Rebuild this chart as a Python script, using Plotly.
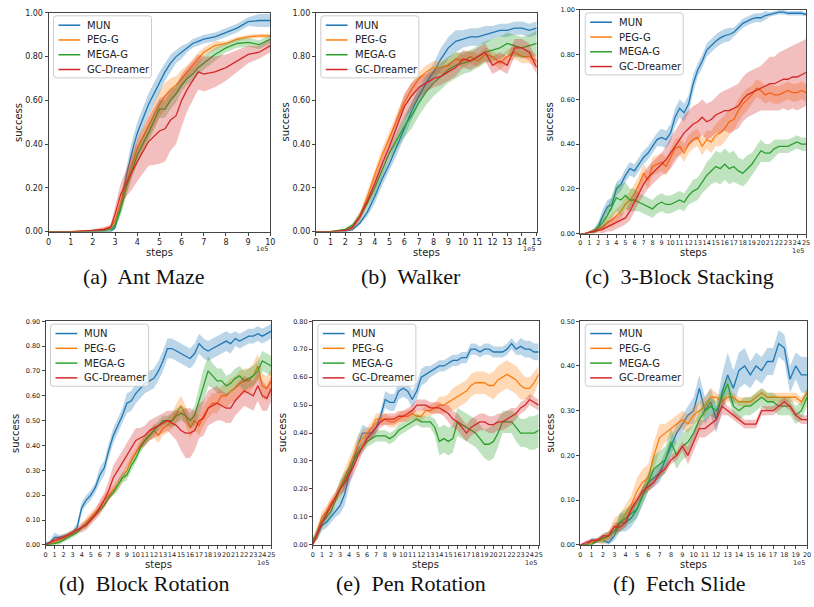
import plotly.graph_objects as go

W, H = 814, 607

METHODS = ["MUN", "PEG-G", "MEGA-G", "GC-Dreamer"]
COLORS = ["#1f77b4", "#ff7f0e", "#2ca02c", "#d62728"]
FILLS = ["rgba(31,119,180,0.3)", "rgba(255,127,14,0.3)",
         "rgba(44,160,44,0.3)", "rgba(214,39,40,0.3)"]

# ---------------- (a) Ant Maze ----------------
A_x = [0, 1, 2, 2.5, 2.8, 3, 3.25, 3.5, 3.75, 4, 4.5, 5, 5.25, 5.5, 5.75, 6,
       6.25, 6.5, 6.75, 7, 7.5, 8, 8.5, 9, 9.5, 10]
A_mun = [0, 0, 0, 0, 0, 0.02, 0.12, 0.25, 0.36, 0.45, 0.58, 0.68, 0.73, 0.77, 0.80, 0.82,
         0.84, 0.86, 0.87, 0.88, 0.89, 0.91, 0.93, 0.96, 0.965, 0.965]
A_mun_sd = [0, 0, 0, 0, 0, 0.01, 0.03, 0.04, 0.05, 0.05, 0.05, 0.05, 0.04, 0.04, 0.03, 0.03,
            0.02, 0.02, 0.02, 0.02, 0.02, 0.02, 0.02, 0.02, 0.03, 0.03]
A_peg = [0, 0, 0.005, 0.01, 0.02, 0.05, 0.13, 0.22, 0.30, 0.38, 0.48, 0.58, 0.62, 0.65, 0.67, 0.70,
         0.73, 0.76, 0.79, 0.82, 0.85, 0.86, 0.88, 0.89, 0.895, 0.895]
A_peg_sd = [0, 0, 0.005, 0.01, 0.01, 0.02, 0.04, 0.05, 0.05, 0.05, 0.05, 0.06, 0.06, 0.05, 0.04, 0.04,
            0.03, 0.03, 0.03, 0.02, 0.02, 0.01, 0.01, 0.01, 0.01, 0.01]
A_mega = [0, 0, 0, 0.005, 0.01, 0.03, 0.10, 0.20, 0.28, 0.35, 0.45, 0.56, 0.56, 0.60, 0.63, 0.67,
          0.70, 0.72, 0.75, 0.77, 0.81, 0.84, 0.86, 0.865, 0.855, 0.88]
A_mega_sd = [0, 0, 0, 0.005, 0.01, 0.02, 0.03, 0.04, 0.04, 0.04, 0.04, 0.04, 0.04, 0.04, 0.04, 0.03,
             0.03, 0.03, 0.03, 0.03, 0.03, 0.02, 0.02, 0.02, 0.02, 0.02]
A_gc = [0, 0, 0.005, 0.01, 0.02, 0.08, 0.17, 0.22, 0.27, 0.32, 0.41, 0.46, 0.47, 0.51, 0.53, 0.60,
        0.65, 0.69, 0.73, 0.72, 0.73, 0.75, 0.78, 0.81, 0.82, 0.85]
A_gc_sd = [0, 0, 0.005, 0.01, 0.01, 0.04, 0.05, 0.06, 0.08, 0.09, 0.11, 0.15, 0.15, 0.14, 0.13, 0.12,
           0.10, 0.09, 0.08, 0.08, 0.07, 0.06, 0.05, 0.04, 0.03, 0.03]

# ---------------- (b) Walker ----------------
B_x = [0, 1, 2, 2.5, 3, 3.5, 4, 4.5, 5, 5.5, 6, 6.5, 7, 7.5, 8, 8.5, 9, 9.5, 10,
       10.5, 11, 11.5, 12, 12.5, 13, 13.5, 14, 14.5, 15]
B_mun = [0, 0, 0, 0.01, 0.04, 0.09, 0.16, 0.24, 0.31, 0.39, 0.47, 0.55, 0.62, 0.68, 0.73, 0.79,
         0.84, 0.87, 0.88, 0.89, 0.89, 0.90, 0.91, 0.92, 0.92, 0.93, 0.93, 0.92, 0.93]
B_mun_sd = [0, 0, 0, 0.005, 0.01, 0.02, 0.03, 0.03, 0.03, 0.04, 0.04, 0.04, 0.04, 0.04, 0.04, 0.05,
            0.05, 0.05, 0.04, 0.04, 0.04, 0.04, 0.03, 0.03, 0.03, 0.03, 0.03, 0.03, 0.03]
B_peg = [0, 0, 0.005, 0.02, 0.07, 0.16, 0.26, 0.35, 0.43, 0.51, 0.59, 0.65, 0.70, 0.73, 0.75, 0.75,
         0.76, 0.79, 0.78, 0.80, 0.78, 0.81, 0.80, 0.77, 0.80, 0.82, 0.80, 0.80, 0.78]
B_peg_sd = [0, 0, 0.005, 0.01, 0.02, 0.03, 0.03, 0.03, 0.03, 0.03, 0.03, 0.03, 0.03, 0.03, 0.03, 0.03,
            0.03, 0.03, 0.03, 0.03, 0.03, 0.03, 0.03, 0.03, 0.03, 0.03, 0.03, 0.03, 0.03]
B_mega = [0, 0, 0.01, 0.03, 0.07, 0.13, 0.20, 0.28, 0.36, 0.42, 0.48, 0.53, 0.59, 0.64, 0.68, 0.71,
          0.74, 0.76, 0.77, 0.78, 0.80, 0.82, 0.83, 0.84, 0.86, 0.85, 0.84, 0.85, 0.86]
B_mega_sd = [0, 0, 0.005, 0.01, 0.02, 0.02, 0.03, 0.03, 0.03, 0.04, 0.05, 0.06, 0.06, 0.06, 0.06, 0.06,
             0.06, 0.06, 0.05, 0.05, 0.05, 0.05, 0.05, 0.05, 0.05, 0.05, 0.05, 0.05, 0.06]
B_gc = [0, 0, 0.005, 0.02, 0.07, 0.14, 0.22, 0.31, 0.39, 0.48, 0.57, 0.62, 0.66, 0.68, 0.70, 0.71,
        0.73, 0.75, 0.79, 0.78, 0.80, 0.82, 0.76, 0.78, 0.76, 0.84, 0.84, 0.82, 0.75]
B_gc_sd = [0, 0, 0.005, 0.01, 0.02, 0.02, 0.03, 0.03, 0.04, 0.05, 0.06, 0.06, 0.05, 0.04, 0.04, 0.04,
           0.04, 0.04, 0.04, 0.04, 0.04, 0.04, 0.04, 0.04, 0.04, 0.04, 0.04, 0.04, 0.03]

# ---------------- (c) 3-Block Stacking ----------------
C_x = [k / 2 for k in range(51)]
C_mun = [0, 0, 0.005, 0.01, 0.03, 0.08, 0.12, 0.13, 0.20, 0.22,
         0.26, 0.29, 0.28, 0.31, 0.34, 0.36, 0.39, 0.42, 0.43, 0.42,
         0.45, 0.52, 0.56, 0.54, 0.58, 0.67, 0.73, 0.77, 0.82, 0.84,
         0.86, 0.875, 0.885, 0.89, 0.90, 0.92, 0.94, 0.95, 0.96, 0.965,
         0.965, 0.975, 0.98, 0.985, 0.99, 0.99, 0.985, 0.985, 0.985, 0.985, 0.98]
C_mun_sd = [0, 0, 0.005, 0.01, 0.02, 0.03, 0.03, 0.03, 0.03, 0.03,
            0.03, 0.03, 0.03, 0.03, 0.03, 0.03, 0.03, 0.03, 0.04, 0.04,
            0.04, 0.04, 0.04, 0.04, 0.04, 0.04, 0.03, 0.03, 0.03, 0.03,
            0.03, 0.03, 0.03, 0.03, 0.02, 0.02, 0.02, 0.02, 0.02, 0.02,
            0.02, 0.02, 0.01, 0.01, 0.01, 0.01, 0.01, 0.01, 0.01, 0.01, 0.01]
C_peg = [0, 0, 0.005, 0.01, 0.02, 0.03, 0.05, 0.06, 0.08, 0.10,
         0.13, 0.15, 0.18, 0.22, 0.27, 0.24, 0.30, 0.31, 0.32, 0.30,
         0.34, 0.38, 0.39, 0.36, 0.40, 0.42, 0.43, 0.39, 0.42, 0.41,
         0.44, 0.45, 0.47, 0.50, 0.51, 0.55, 0.58, 0.60, 0.62, 0.65,
         0.64, 0.62, 0.63, 0.62, 0.62, 0.63, 0.64, 0.63, 0.63, 0.64, 0.63]
C_peg_sd = [0, 0, 0.005, 0.01, 0.01, 0.02, 0.02, 0.03, 0.03, 0.03,
            0.03, 0.04, 0.04, 0.04, 0.04, 0.04, 0.04, 0.04, 0.04, 0.04,
            0.04, 0.04, 0.04, 0.04, 0.04, 0.04, 0.04, 0.04, 0.04, 0.05,
            0.05, 0.06, 0.06, 0.06, 0.05, 0.05, 0.05, 0.05, 0.04, 0.04,
            0.04, 0.04, 0.04, 0.04, 0.04, 0.04, 0.04, 0.04, 0.04, 0.04, 0.04]
C_mega = [0, 0, 0.005, 0.01, 0.03, 0.05, 0.08, 0.12, 0.16, 0.15,
          0.17, 0.15, 0.15, 0.14, 0.13, 0.12, 0.11, 0.13, 0.14, 0.13,
          0.13, 0.14, 0.15, 0.14, 0.17, 0.19, 0.20, 0.23, 0.26, 0.28,
          0.30, 0.29, 0.31, 0.29, 0.30, 0.28, 0.27, 0.29, 0.31, 0.34,
          0.37, 0.36, 0.36, 0.38, 0.39, 0.39, 0.39, 0.40, 0.41, 0.40, 0.40]
C_mega_sd = [0, 0, 0.005, 0.01, 0.02, 0.03, 0.04, 0.05, 0.06, 0.07,
             0.06, 0.05, 0.05, 0.04, 0.04, 0.04, 0.04, 0.04, 0.04, 0.04,
             0.04, 0.04, 0.04, 0.04, 0.04, 0.05, 0.05, 0.05, 0.06, 0.06,
             0.07, 0.07, 0.07, 0.07, 0.07, 0.06, 0.06, 0.06, 0.05, 0.05,
             0.05, 0.04, 0.04, 0.04, 0.03, 0.03, 0.03, 0.03, 0.03, 0.03, 0.03]
C_gc = [0, 0, 0.005, 0.01, 0.015, 0.02, 0.03, 0.04, 0.05, 0.06,
        0.07, 0.10, 0.14, 0.18, 0.22, 0.25, 0.27, 0.29, 0.31, 0.33,
        0.36, 0.39, 0.42, 0.45, 0.47, 0.49, 0.50, 0.52, 0.50, 0.51,
        0.53, 0.54, 0.55, 0.55, 0.56, 0.57, 0.60, 0.62, 0.63, 0.64,
        0.65, 0.66, 0.67, 0.67, 0.68, 0.69, 0.69, 0.70, 0.70, 0.71, 0.72]
C_gc_sd = [0, 0, 0.005, 0.01, 0.01, 0.02, 0.02, 0.03, 0.03, 0.03,
           0.03, 0.04, 0.04, 0.04, 0.05, 0.05, 0.05, 0.05, 0.05, 0.06,
           0.07, 0.07, 0.07, 0.08, 0.08, 0.08, 0.08, 0.08, 0.08, 0.08,
           0.08, 0.09, 0.09, 0.10, 0.10, 0.10, 0.10, 0.10, 0.10, 0.10,
           0.10, 0.11, 0.12, 0.12, 0.13, 0.13, 0.14, 0.14, 0.15, 0.15, 0.15]

# ---------------- (d) Block Rotation ----------------
D_x = [k / 2 for k in range(51)]
D_mun = [0.005, 0.01, 0.03, 0.03, 0.035, 0.04, 0.05, 0.07, 0.15, 0.18,
         0.20, 0.23, 0.28, 0.31, 0.38, 0.44, 0.48, 0.52, 0.57, 0.58,
         0.61, 0.63, 0.65, 0.66, 0.67, 0.70, 0.74, 0.79, 0.79, 0.78,
         0.77, 0.76, 0.75, 0.77, 0.81, 0.79, 0.78, 0.79, 0.80, 0.81,
         0.82, 0.81, 0.83, 0.82, 0.83, 0.84, 0.84, 0.85, 0.84, 0.85, 0.86]
D_mun_sd = [0.005, 0.01, 0.02, 0.01, 0.01, 0.01, 0.01, 0.02, 0.02, 0.02,
            0.02, 0.02, 0.03, 0.03, 0.03, 0.03, 0.03, 0.03, 0.04, 0.04,
            0.04, 0.04, 0.04, 0.04, 0.04, 0.04, 0.04, 0.04, 0.04, 0.04,
            0.04, 0.04, 0.04, 0.04, 0.04, 0.04, 0.04, 0.04, 0.04, 0.04,
            0.04, 0.04, 0.03, 0.03, 0.03, 0.03, 0.03, 0.03, 0.03, 0.03, 0.03]
D_peg = [0.0, 0.005, 0.01, 0.02, 0.03, 0.04, 0.05, 0.06, 0.07, 0.09,
         0.11, 0.13, 0.15, 0.18, 0.20, 0.22, 0.24, 0.27, 0.30, 0.34,
         0.37, 0.40, 0.42, 0.44, 0.46, 0.44, 0.47, 0.48, 0.50, 0.53,
         0.56, 0.52, 0.47, 0.50, 0.48, 0.52, 0.55, 0.57, 0.57, 0.60,
         0.60, 0.62, 0.63, 0.65, 0.66, 0.66, 0.68, 0.72, 0.64, 0.63, 0.66]
D_peg_sd = [0, 0.005, 0.01, 0.01, 0.01, 0.01, 0.01, 0.01, 0.01, 0.02,
            0.02, 0.02, 0.02, 0.02, 0.02, 0.02, 0.02, 0.02, 0.02, 0.02,
            0.02, 0.02, 0.02, 0.02, 0.03, 0.03, 0.03, 0.03, 0.03, 0.04,
            0.04, 0.04, 0.04, 0.04, 0.04, 0.04, 0.04, 0.04, 0.04, 0.04,
            0.05, 0.05, 0.05, 0.05, 0.05, 0.05, 0.05, 0.05, 0.05, 0.05, 0.05]
D_mega = [0, 0.002, 0.005, 0.01, 0.02, 0.03, 0.04, 0.05, 0.07, 0.08,
          0.10, 0.12, 0.14, 0.16, 0.19, 0.21, 0.24, 0.27, 0.28, 0.32,
          0.35, 0.39, 0.42, 0.44, 0.46, 0.48, 0.50, 0.50, 0.50, 0.52,
          0.53, 0.52, 0.50, 0.52, 0.58, 0.64, 0.70, 0.68, 0.66, 0.66,
          0.64, 0.65, 0.67, 0.68, 0.66, 0.67, 0.68, 0.70, 0.74, 0.73, 0.72]
D_mega_sd = [0, 0.002, 0.005, 0.01, 0.01, 0.01, 0.01, 0.01, 0.01, 0.01,
             0.01, 0.01, 0.01, 0.01, 0.01, 0.01, 0.02, 0.02, 0.02, 0.02,
             0.02, 0.02, 0.02, 0.02, 0.02, 0.02, 0.02, 0.02, 0.03, 0.03,
             0.03, 0.03, 0.03, 0.04, 0.06, 0.07, 0.06, 0.05, 0.05, 0.05,
             0.04, 0.04, 0.04, 0.04, 0.04, 0.04, 0.04, 0.04, 0.04, 0.04, 0.04]
D_gc = [0, 0.01, 0.02, 0.025, 0.03, 0.04, 0.05, 0.06, 0.07, 0.08,
        0.10, 0.12, 0.15, 0.18, 0.22, 0.27, 0.30, 0.33, 0.36, 0.39,
        0.42, 0.43, 0.44, 0.46, 0.47, 0.48, 0.49, 0.50, 0.49, 0.48,
        0.46, 0.45, 0.45, 0.46, 0.50, 0.51, 0.55, 0.56, 0.57, 0.56,
        0.55, 0.55, 0.58, 0.60, 0.62, 0.61, 0.60, 0.64, 0.60, 0.59, 0.63]
D_gc_sd = [0, 0.005, 0.01, 0.01, 0.01, 0.01, 0.01, 0.01, 0.02, 0.02,
           0.02, 0.02, 0.03, 0.03, 0.04, 0.05, 0.05, 0.05, 0.05, 0.05,
           0.05, 0.04, 0.04, 0.04, 0.04, 0.04, 0.04, 0.04, 0.05, 0.06,
           0.08, 0.10, 0.10, 0.08, 0.07, 0.07, 0.07, 0.07, 0.07, 0.06,
           0.06, 0.06, 0.06, 0.06, 0.06, 0.06, 0.06, 0.06, 0.06, 0.05, 0.05]

# ---------------- (e) Pen Rotation ----------------
E_x = [k / 2 for k in range(51)]
E_mun = [0.02, 0.04, 0.07, 0.08, 0.10, 0.12, 0.14, 0.18, 0.25, 0.30,
         0.36, 0.40, 0.40, 0.40, 0.42, 0.46, 0.52, 0.51, 0.51, 0.55,
         0.56, 0.55, 0.52, 0.55, 0.60, 0.61, 0.62, 0.63, 0.64, 0.64,
         0.65, 0.66, 0.66, 0.67, 0.67, 0.70, 0.70, 0.69, 0.70, 0.70,
         0.69, 0.69, 0.69, 0.70, 0.72, 0.70, 0.71, 0.70, 0.70, 0.69, 0.69]
E_mun_sd = [0.01, 0.02, 0.02, 0.02, 0.02, 0.02, 0.03, 0.04, 0.04, 0.03,
            0.03, 0.03, 0.02, 0.02, 0.02, 0.02, 0.03, 0.03, 0.03, 0.03,
            0.03, 0.03, 0.03, 0.03, 0.03, 0.03, 0.02, 0.02, 0.02, 0.02,
            0.02, 0.02, 0.02, 0.02, 0.02, 0.02, 0.02, 0.02, 0.02, 0.02,
            0.02, 0.02, 0.02, 0.02, 0.02, 0.02, 0.03, 0.03, 0.03, 0.03, 0.03]
E_peg = [0.01, 0.05, 0.10, 0.12, 0.15, 0.17, 0.20, 0.24, 0.28, 0.32,
         0.36, 0.38, 0.40, 0.42, 0.45, 0.45, 0.45, 0.44, 0.44, 0.45,
         0.46, 0.46, 0.47, 0.46, 0.46, 0.48, 0.48, 0.49, 0.50, 0.50,
         0.51, 0.52, 0.53, 0.54, 0.55, 0.57, 0.58, 0.58, 0.58, 0.57,
         0.57, 0.59, 0.60, 0.61, 0.60, 0.59, 0.57, 0.56, 0.56, 0.58, 0.61]
E_peg_sd = [0.01, 0.02, 0.02, 0.02, 0.02, 0.02, 0.03, 0.03, 0.03, 0.03,
            0.03, 0.03, 0.02, 0.02, 0.02, 0.02, 0.02, 0.02, 0.02, 0.02,
            0.02, 0.02, 0.02, 0.02, 0.02, 0.02, 0.02, 0.02, 0.03, 0.03,
            0.03, 0.04, 0.04, 0.04, 0.04, 0.04, 0.04, 0.04, 0.04, 0.04,
            0.05, 0.05, 0.05, 0.05, 0.05, 0.05, 0.05, 0.04, 0.04, 0.04, 0.03]
E_mega = [0.01, 0.04, 0.08, 0.10, 0.12, 0.16, 0.20, 0.23, 0.26, 0.30,
          0.33, 0.35, 0.37, 0.38, 0.39, 0.39, 0.39, 0.38, 0.39, 0.41,
          0.42, 0.43, 0.44, 0.45, 0.44, 0.44, 0.44, 0.42, 0.37, 0.38,
          0.37, 0.38, 0.44, 0.43, 0.42, 0.41, 0.40, 0.38, 0.36, 0.36,
          0.37, 0.40, 0.44, 0.44, 0.44, 0.42, 0.40, 0.40, 0.40, 0.40, 0.41]
E_mega_sd = [0.01, 0.02, 0.02, 0.02, 0.02, 0.02, 0.03, 0.03, 0.02, 0.02,
             0.02, 0.02, 0.02, 0.02, 0.02, 0.02, 0.02, 0.02, 0.02, 0.02,
             0.02, 0.02, 0.02, 0.02, 0.02, 0.02, 0.02, 0.03, 0.05, 0.05,
             0.05, 0.05, 0.05, 0.05, 0.05, 0.05, 0.05, 0.05, 0.05, 0.06,
             0.06, 0.05, 0.04, 0.04, 0.04, 0.05, 0.05, 0.05, 0.06, 0.06, 0.06]
E_gc = [0.0, 0.04, 0.08, 0.11, 0.14, 0.17, 0.20, 0.22, 0.25, 0.28,
        0.32, 0.35, 0.38, 0.40, 0.42, 0.44, 0.45, 0.45, 0.45, 0.46,
        0.46, 0.47, 0.48, 0.50, 0.50, 0.50, 0.49, 0.49, 0.49, 0.48,
        0.47, 0.45, 0.44, 0.42, 0.40, 0.42, 0.43, 0.44, 0.44, 0.43,
        0.43, 0.44, 0.44, 0.45, 0.46, 0.47, 0.49, 0.50, 0.52, 0.51, 0.50]
E_gc_sd = [0.005, 0.02, 0.02, 0.02, 0.02, 0.02, 0.02, 0.03, 0.03, 0.03,
           0.03, 0.02, 0.02, 0.02, 0.02, 0.02, 0.02, 0.02, 0.02, 0.02,
           0.02, 0.02, 0.02, 0.02, 0.02, 0.02, 0.02, 0.02, 0.02, 0.02,
           0.03, 0.03, 0.03, 0.03, 0.03, 0.03, 0.03, 0.03, 0.03, 0.03,
           0.03, 0.03, 0.03, 0.03, 0.03, 0.02, 0.02, 0.02, 0.02, 0.02, 0.02]

# ---------------- (f) Fetch Slide ----------------
F_x = [k / 2 for k in range(41)]
F_mun = [0, 0, 0.01, 0.01, 0.01, 0.005, 0.02, 0.05, 0.05, 0.06,
         0.08, 0.11, 0.14, 0.15, 0.16, 0.19, 0.22, 0.25, 0.27, 0.29,
         0.30, 0.35, 0.30, 0.32, 0.28, 0.34, 0.38, 0.35, 0.39, 0.40,
         0.38, 0.40, 0.39, 0.41, 0.41, 0.45, 0.44, 0.37, 0.40, 0.38, 0.38]
F_mun_sd = [0, 0, 0.005, 0.005, 0.005, 0.005, 0.01, 0.02, 0.02, 0.02,
            0.02, 0.02, 0.02, 0.02, 0.02, 0.02, 0.02, 0.02, 0.02, 0.02,
            0.03, 0.03, 0.03, 0.03, 0.03, 0.04, 0.05, 0.04, 0.04, 0.04,
            0.03, 0.03, 0.03, 0.03, 0.03, 0.03, 0.03, 0.03, 0.03, 0.04, 0.04]
F_peg = [0, 0, 0.005, 0.01, 0.01, 0.02, 0.04, 0.05, 0.07, 0.09,
         0.12, 0.14, 0.15, 0.20, 0.24, 0.25, 0.26, 0.27, 0.28, 0.27,
         0.29, 0.30, 0.31, 0.33, 0.33, 0.32, 0.33, 0.33, 0.32, 0.32,
         0.32, 0.33, 0.34, 0.33, 0.33, 0.33, 0.33, 0.33, 0.33, 0.32, 0.34]
F_peg_sd = [0, 0, 0.005, 0.005, 0.01, 0.01, 0.02, 0.02, 0.02, 0.02,
            0.03, 0.03, 0.03, 0.03, 0.03, 0.02, 0.02, 0.02, 0.02, 0.02,
            0.02, 0.02, 0.02, 0.02, 0.01, 0.01, 0.01, 0.01, 0.01, 0.01,
            0.01, 0.01, 0.01, 0.01, 0.01, 0.01, 0.01, 0.01, 0.01, 0.01, 0.01]
F_mega = [0, 0, 0.0, 0.01, 0.015, 0.02, 0.03, 0.05, 0.06, 0.07,
          0.08, 0.11, 0.14, 0.17, 0.18, 0.19, 0.23, 0.20, 0.22, 0.23,
          0.25, 0.28, 0.30, 0.31, 0.30, 0.33, 0.36, 0.31, 0.30, 0.31,
          0.31, 0.32, 0.33, 0.32, 0.32, 0.31, 0.31, 0.31, 0.29, 0.30, 0.33]
F_mega_sd = [0, 0, 0.005, 0.005, 0.01, 0.01, 0.01, 0.02, 0.02, 0.02,
             0.02, 0.02, 0.02, 0.03, 0.03, 0.03, 0.03, 0.03, 0.03, 0.03,
             0.02, 0.02, 0.02, 0.02, 0.02, 0.02, 0.02, 0.02, 0.02, 0.02,
             0.02, 0.02, 0.02, 0.02, 0.02, 0.02, 0.02, 0.02, 0.02, 0.02, 0.02]
F_gc = [0, 0.005, 0.01, 0.01, 0.02, 0.02, 0.04, 0.04, 0.05, 0.08,
        0.10, 0.12, 0.13, 0.14, 0.16, 0.17, 0.19, 0.20, 0.22, 0.20,
        0.23, 0.26, 0.26, 0.27, 0.28, 0.31, 0.30, 0.29, 0.28, 0.27,
        0.27, 0.27, 0.30, 0.30, 0.30, 0.31, 0.32, 0.31, 0.29, 0.28, 0.28]
F_gc_sd = [0, 0.005, 0.005, 0.005, 0.005, 0.01, 0.01, 0.01, 0.01, 0.01,
           0.01, 0.01, 0.01, 0.01, 0.01, 0.01, 0.01, 0.01, 0.01, 0.02,
           0.02, 0.02, 0.02, 0.02, 0.02, 0.02, 0.01, 0.01, 0.01, 0.01,
           0.01, 0.01, 0.01, 0.01, 0.01, 0.01, 0.01, 0.01, 0.01, 0.01, 0.01]

PANELS = [
    dict(x=A_x, mean=[A_mun, A_peg, A_mega, A_gc], sd=[A_mun_sd, A_peg_sd, A_mega_sd, A_gc_sd],
         xmax=10, yticks=[0, 0.2, 0.4, 0.6, 0.8, 1.0], box=(46, 9, 270, 231),
         tf=8, steps_dy=21, caption="(a)\u00a0 Ant Maze", cap=(142, 277)),
    dict(x=B_x, mean=[B_mun, B_peg, B_mega, B_gc], sd=[B_mun_sd, B_peg_sd, B_mega_sd, B_gc_sd],
         xmax=15, yticks=[0, 0.2, 0.4, 0.6, 0.8, 1.0], box=(316, 9, 539, 231),
         tf=8, steps_dy=21, caption="(b)\u00a0 Walker", cap=(412, 277)),
    dict(x=C_x, mean=[C_mun, C_peg, C_mega, C_gc], sd=[C_mun_sd, C_peg_sd, C_mega_sd, C_gc_sd],
         xmax=25, yticks=[0, 0.2, 0.4, 0.6, 0.8, 1.0], box=(583, 6, 811, 233),
         tf=6.5, steps_dy=19, caption="(c)\u00a0 3-Block Stacking", cap=(683, 277)),
    dict(x=D_x, mean=[D_mun, D_peg, D_mega, D_gc], sd=[D_mun_sd, D_peg_sd, D_mega_sd, D_gc_sd],
         xmax=25, yticks=[0, 0.1, 0.2, 0.3, 0.4, 0.5, 0.6, 0.7, 0.8, 0.9], box=(43, 322, 271, 549),
         tf=6.5, steps_dy=19.5, caption="(d)\u00a0 Block Rotation", cap=(142, 588)),
    dict(x=E_x, mean=[E_mun, E_peg, E_mega, E_gc], sd=[E_mun_sd, E_peg_sd, E_mega_sd, E_gc_sd],
         xmax=25, yticks=[0, 0.1, 0.2, 0.3, 0.4, 0.5, 0.6, 0.7, 0.8], box=(313, 322, 541, 549),
         tf=6.5, steps_dy=19.5, caption="(e)\u00a0 Pen Rotation", cap=(412, 588)),
    dict(x=F_x, mean=[F_mun, F_peg, F_mega, F_gc], sd=[F_mun_sd, F_peg_sd, F_mega_sd, F_gc_sd],
         xmax=20, yticks=[0, 0.1, 0.2, 0.3, 0.4, 0.5], box=(583, 322, 812, 549),
         tf=6.5, steps_dy=19.5, caption="(f)\u00a0 Fetch Slide", cap=(683, 588)),
]


def px(xp):
    return xp / W


def py(yp):
    return 1 - yp / H


SANS = "DejaVu Sans"
SERIF = "Liberation Serif"
AX = "#444444"
TXT = "#222222"

fig = go.Figure()
shapes = []
annotations = []
layout = {}

for i, p in enumerate(PANELS, start=1):
    sfx = "" if i == 1 else str(i)
    xa, ya = "x" + sfx, "y" + sfx
    xs = p["x"]
    for m in range(4):
        ys, sd = p["mean"][m], p["sd"][m]
        if not (len(xs) == len(ys) == len(sd)):
            raise ValueError(f"length mismatch panel {i} series {m}: {len(xs)} {len(ys)} {len(sd)}")
        up = [v + s for v, s in zip(ys, sd)]
        lo = [max(0.0, v - s) for v, s in zip(ys, sd)]
        fig.add_trace(go.Scatter(x=list(xs) + list(xs)[::-1], y=up + lo[::-1], fill="toself",
                                 fillcolor=FILLS[m], line=dict(width=0), mode="lines",
                                 hoverinfo="skip", showlegend=False, xaxis=xa, yaxis=ya))
        fig.add_trace(go.Scatter(x=xs, y=ys, mode="lines", name=METHODS[m],
                                 line=dict(color=COLORS[m], width=1.3),
                                 showlegend=False, xaxis=xa, yaxis=ya))

    l, t, r, b = p["box"]
    ymax = p["yticks"][-1]
    layout["xaxis" + sfx] = dict(
        domain=[px(l), px(r)], range=[0, p["xmax"]], anchor=ya,
        tickmode="array", tickvals=list(range(p["xmax"] + 1)),
        ticktext=[str(k) for k in range(p["xmax"] + 1)], tickangle=0,
        ticks="outside", ticklen=3, tickwidth=1, tickcolor=AX,
        showline=True, linecolor=AX, linewidth=1, mirror=True,
        showgrid=False, zeroline=False,
        tickfont=dict(family=SANS, size=p["tf"], color=TXT))
    layout["yaxis" + sfx] = dict(
        domain=[py(b), py(t)], range=[0, ymax], anchor=xa,
        tickmode="array", tickvals=p["yticks"],
        ticktext=[f"{v:.2f}" for v in p["yticks"]],
        ticks="outside", ticklen=3, tickwidth=1, tickcolor=AX,
        showline=True, linecolor=AX, linewidth=1, mirror=True,
        showgrid=False, zeroline=False,
        tickfont=dict(family=SANS, size=p["tf"], color=TXT))

    # axis labels
    annotations.append(dict(text="success", x=px(l - 31), y=py((t + b) / 2), xref="paper", yref="paper",
                            textangle=-90, showarrow=False, xanchor="center", yanchor="middle",
                            font=dict(family=SANS, size=10, color=TXT)))
    annotations.append(dict(text="steps", x=px((l + r) / 2), y=py(b + p["steps_dy"]), xref="paper",
                            yref="paper", showarrow=False, xanchor="center", yanchor="middle",
                            font=dict(family=SANS, size=10, color=TXT)))
    annotations.append(dict(text="1e5", x=px(r), y=py(b + 18), xref="paper", yref="paper",
                            showarrow=False, xanchor="right", yanchor="middle",
                            font=dict(family=SANS, size=6.5, color=TXT)))
    # caption
    annotations.append(dict(text=p["caption"], x=px(p["cap"][0]), y=py(p["cap"][1]), xref="paper",
                            yref="paper", showarrow=False, xanchor="center", yanchor="middle",
                            font=dict(family=SERIF, size=22, color="#111111")))

    # legend box (matplotlib style)
    bl, bt = l + 5, t + 3
    bw, bh = 99, 63
    rad = 3
    x0, x1 = px(bl), px(bl + bw)
    y0, y1 = py(bt), py(bt + bh)
    rx, ry = rad / W, rad / H
    path = (f"M{x0 + rx},{y0} L{x1 - rx},{y0} Q{x1},{y0} {x1},{y0 - ry} "
            f"L{x1},{y1 + ry} Q{x1},{y1} {x1 - rx},{y1} L{x0 + rx},{y1} "
            f"Q{x0},{y1} {x0},{y1 + ry} L{x0},{y0 - ry} Q{x0},{y0} {x0 + rx},{y0} Z")
    shapes.append(dict(type="path", path=path, xref="paper", yref="paper",
                       fillcolor="rgba(255,255,255,0.8)", line=dict(color="#cccccc", width=1)))
    for m in range(4):
        yc = bt + 9.5 + m * 15
        shapes.append(dict(type="line", xref="paper", yref="paper",
                           x0=px(bl + 5), x1=px(bl + 27), y0=py(yc), y1=py(yc),
                           line=dict(color=COLORS[m], width=1.5)))
        annotations.append(dict(text=METHODS[m], x=px(bl + 32), y=py(yc), xref="paper", yref="paper",
                                showarrow=False, xanchor="left", yanchor="middle",
                                font=dict(family=SANS, size=10, color=TXT)))

fig.update_layout(
    width=W, height=H, margin=dict(l=0, r=0, t=0, b=0),
    paper_bgcolor="white", plot_bgcolor="white",
    showlegend=False, shapes=shapes, annotations=annotations,
    **layout)

fig.write_html("out.html")
